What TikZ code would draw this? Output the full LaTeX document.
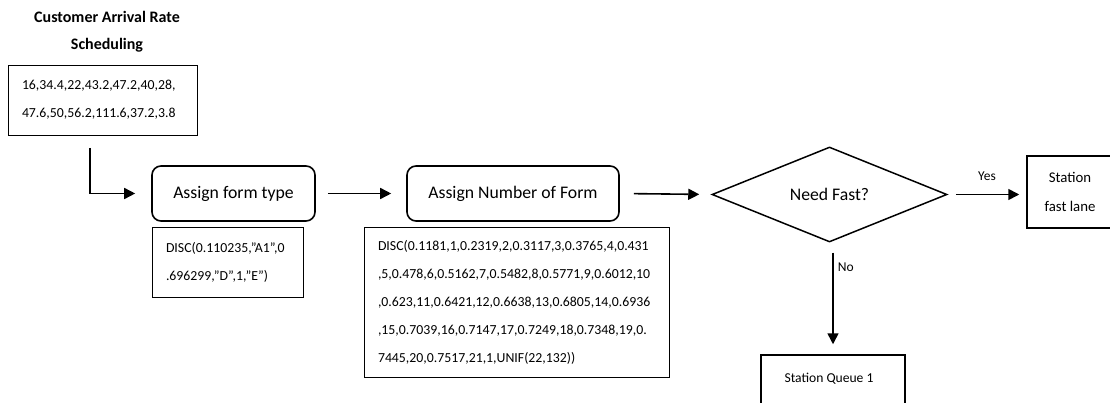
\documentclass[tikz,border=0pt]{standalone}
\usepackage{fontspec}
\setmainfont{Carlito}
\usetikzlibrary{shapes.geometric,arrows.meta}
\begin{document}
\begin{tikzpicture}[x=1pt,y=-1pt,
  thin box/.style={draw,line width=0.9pt,inner sep=0pt,align=left},
  thick box/.style={draw,line width=1.5pt,inner sep=0pt,align=center},
  round box/.style={draw,line width=1.6pt,rounded corners=9pt,inner sep=0pt,align=center,font=\fontsize{17.7}{20}\selectfont},
  arr/.style={line width=1.6pt,-{Triangle[length=11pt,width=11pt]}},
  small/.style={font=\fontsize{13.8}{28}\selectfont},
  lab/.style={font=\fontsize{13.5}{15}\selectfont,inner sep=0pt}]
\useasboundingbox (0,0) rectangle (1110,403);
\clip (0,0) rectangle (1110,403);
% title
\node[font=\bfseries\fontsize{16}{18}\selectfont] (t1) at (107,17) {Customer Arrival Rate};
\node[font=\bfseries\fontsize{16}{18}\selectfont] (t2) at (107,45) {Scheduling};
% boxes
\node[thin box,small,minimum width=189pt,minimum height=70pt,text width=161pt] (b1) at (102.5,100)
  {16,34.4,22,43.2,47.2,40,28,\\47.6,50,56.2,111.6,37.2,3.8};
\node[round box,minimum width=163pt,minimum height=55pt] (form) at (233.5,193.5) {Assign form type};
\node[thin box,small,minimum width=151pt,minimum height=70pt,text width=123pt] (d1) at (227.5,262)
  {DISC(0.110235,"A1",0\\.696299,"D",1,"E")};
\node[round box,minimum width=212pt,minimum height=55pt] (num) at (513,193.5) {Assign Number of Form};
\node[thin box,small,minimum width=305pt,minimum height=150pt,text width=277pt] (d2) at (516.5,302)
  {DISC(0.1181,1,0.2319,2,0.3117,3,0.3765,4,0.431\\,5,0.478,6,0.5162,7,0.5482,8,0.5771,9,0.6012,10\\,0.623,11,0.6421,12,0.6638,13,0.6805,14,0.6936\\,15,0.7039,16,0.7147,17,0.7249,18,0.7348,19,0.\\7445,20,0.7517,21,1,UNIF(22,132))};
\node[draw,diamond,line width=1.5pt,inner sep=0pt,minimum width=235pt,minimum height=95pt,font=\fontsize{17.7}{20}\selectfont] (dec) at (829.5,194.5) {Need Fast?};
\node[thick box,font=\fontsize{14.8}{29}\selectfont,minimum width=86pt,minimum height=72pt] (fast) at (1070,192) {Station\\fast lane};
\node[thick box,minimum width=144pt,minimum height=70pt] (queue) at (833,390) {};
\node[font=\fontsize{13.6}{15}\selectfont] (qlabel) at (829,379) {Station Queue 1};
% connectors
\coordinate (s0) at (90,148);
\draw[arr,shorten >=16pt] (s0) |- (form.west);
\draw[arr,shorten <=12pt,shorten >=15pt] (form.east) -- (num.west);
\draw[arr,shorten <=14pt,shorten >=12pt] (num.east) -- (dec.west);
\draw[arr,shorten <=8pt,shorten >=7pt] (dec.east) -- (dec.east -| fast.west)
  node[pos=0.5,above=13pt,lab] (yes) {Yes};
\draw[arr,shorten <=10pt,shorten >=10pt] (queue.north |- dec.south) -- (queue.north)
  node[pos=0.22,right=4pt,lab] (no) {No};
\end{tikzpicture}
\end{document}
